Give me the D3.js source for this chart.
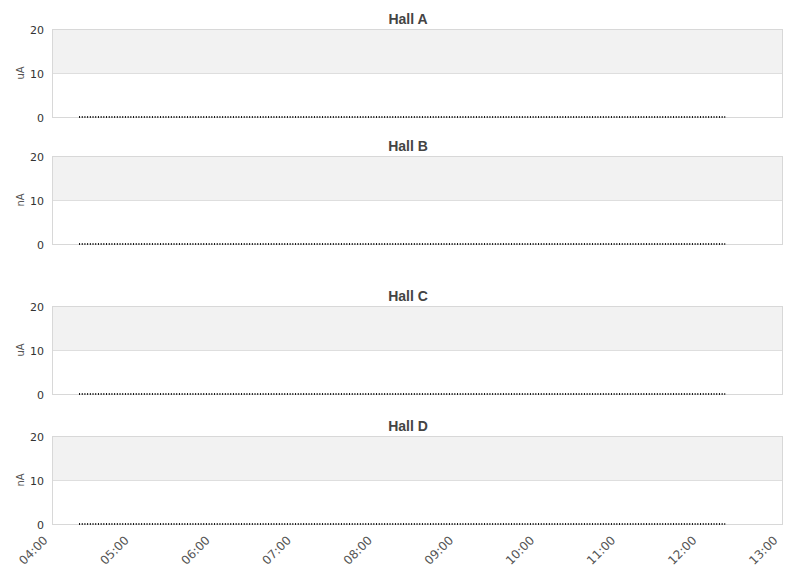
<!DOCTYPE html>
<html>
<head>
<meta charset="utf-8">
<script src="https://cdnjs.cloudflare.com/ajax/libs/d3/7.8.5/d3.min.js"></script>
<style>
  body { margin: 0; background: #fff; }
  svg { display: block; }
  .title { font: bold 14px "Liberation Sans", Arial, sans-serif; fill: #444; }
  .tick text { font-family: "DejaVu Sans", Verdana, sans-serif; font-size: 11px; fill: #333; }
  .ytitle { font: 10px "DejaVu Sans", Verdana, sans-serif; fill: #555; }
</style>
</head>
<body>
<svg id="chart" width="811" height="578"></svg>
<script>
// panels, top to bottom
var halls = ["Hall A", "Hall B", "Hall C", "Hall D"];
var units = ["uA", "nA", "uA", "nA"];
var panelTops = [29, 156, 306, 436];

// time axis
var timeStart = "04:00", timeEnd = "13:00";
var yTicks = [0, 10, 20];

// beam current series (all panels read zero over the shown span)
var seriesTimes = ["04:20", "12:18"];
var seriesValues = [
  [0, 0],
  [0, 0],
  [0, 0],
  [0, 0]
];

var parse = d3.timeParse("%H:%M");
var svg = d3.select("#chart");
var left = 52, right = 782, panelH = 88;

var x = d3.scaleTime()
  .domain([parse(timeStart), parse(timeEnd)])
  .range([left, right]);

halls.forEach(function(name, i) {
  var top = panelTops[i];
  var y = d3.scaleLinear().domain([0, 20]).range([top + panelH, top]);
  var g = svg.append("g").attr("class", "panel");

  // alternating bands
  g.append("rect")
    .attr("x", left).attr("y", y(20))
    .attr("width", right - left).attr("height", y(10) - y(20))
    .style("fill", "#f2f2f2");

  // grid
  g.selectAll(".grid").data(yTicks).enter().append("line")
    .attr("x1", left).attr("x2", right)
    .attr("y1", function(d) { return Math.round(y(d)) + 0.5; })
    .attr("y2", function(d) { return Math.round(y(d)) + 0.5; })
    .style("stroke", "#dedede");

  // plot border
  g.append("rect")
    .attr("x", left + 0.5).attr("y", y(20) + 0.5)
    .attr("width", right - left).attr("height", panelH)
    .style("fill", "none").style("stroke", "#d8d8d8");

  var yAxis = g.append("g")
    .attr("transform", "translate(" + left + ",0)")
    .call(d3.axisLeft(y).tickValues(yTicks).tickSize(0).tickPadding(8));
  yAxis.select(".domain").remove();
  yAxis.selectAll("text").attr("dy", "0.38em");

  g.append("text")
    .attr("class", "ytitle")
    .attr("transform", "translate(24," + (top + panelH / 2) + ") rotate(-90)")
    .attr("text-anchor", "middle")
    .text(units[i]);

  g.append("text")
    .attr("class", "title")
    .attr("x", 408).attr("y", top - 5)
    .attr("text-anchor", "middle")
    .text(name);

  var pts = seriesTimes.map(function(t, k) { return { t: parse(t), v: seriesValues[i][k] }; });
  g.append("path")
    .datum(pts)
    .attr("d", d3.line().x(function(d) { return x(d.t); }).y(function(d) { return y(d.v); }))
    .style("fill", "none")
    .style("stroke", "#111")
    .style("stroke-width", 2)
    .style("stroke-dasharray", "1,1.7");

  if (i === halls.length - 1) {
    var xAxis = g.append("g")
      .attr("transform", "translate(0," + (top + panelH) + ")")
      .call(d3.axisBottom(x).ticks(d3.timeHour.every(1)).tickFormat(d3.timeFormat("%H:%M")).tickSize(0));
    xAxis.select(".domain").remove();
    xAxis.selectAll("text")
      .style("fill", "#555")
      .style("font-size", "12px")
      .attr("text-anchor", "end")
      .attr("dy", 0)
      .attr("y", 0)
      .attr("transform", "translate(-4,17) rotate(-45)");
  }
});
</script>
</body>
</html>
